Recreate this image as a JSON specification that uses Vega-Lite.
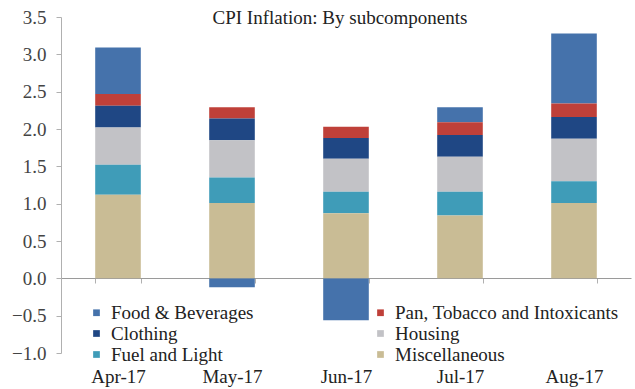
{
  "$schema": "https://vega.github.io/schema/vega-lite/v6.json",
  "width": 570,
  "height": 336,
  "autosize": "none",
  "padding": {"left": 61, "top": 17, "right": 4, "bottom": 36},
  "background": "white",
  "title": {
    "text": "CPI Inflation: By subcomponents",
    "font": "Liberation Serif",
    "fontSize": 19,
    "fontWeight": "normal",
    "color": "#222",
    "anchor": "middle",
    "frame": "group",
    "offset": -20,
    "dx": -6
  },
  "data": {
    "values": [
      {"month": "Apr-17", "component": "Food & Beverages", "value": 0.62},
      {"month": "Apr-17", "component": "Pan, Tobacco and Intoxicants", "value": 0.16},
      {"month": "Apr-17", "component": "Clothing", "value": 0.29},
      {"month": "Apr-17", "component": "Housing", "value": 0.50},
      {"month": "Apr-17", "component": "Fuel and Light", "value": 0.40},
      {"month": "Apr-17", "component": "Miscellaneous", "value": 1.12},
      {"month": "May-17", "component": "Food & Beverages", "value": -0.12},
      {"month": "May-17", "component": "Pan, Tobacco and Intoxicants", "value": 0.15},
      {"month": "May-17", "component": "Clothing", "value": 0.29},
      {"month": "May-17", "component": "Housing", "value": 0.50},
      {"month": "May-17", "component": "Fuel and Light", "value": 0.34},
      {"month": "May-17", "component": "Miscellaneous", "value": 1.01},
      {"month": "Jun-17", "component": "Food & Beverages", "value": -0.56},
      {"month": "Jun-17", "component": "Pan, Tobacco and Intoxicants", "value": 0.15},
      {"month": "Jun-17", "component": "Clothing", "value": 0.28},
      {"month": "Jun-17", "component": "Housing", "value": 0.44},
      {"month": "Jun-17", "component": "Fuel and Light", "value": 0.29},
      {"month": "Jun-17", "component": "Miscellaneous", "value": 0.87},
      {"month": "Jul-17", "component": "Food & Beverages", "value": 0.20},
      {"month": "Jul-17", "component": "Pan, Tobacco and Intoxicants", "value": 0.17},
      {"month": "Jul-17", "component": "Clothing", "value": 0.29},
      {"month": "Jul-17", "component": "Housing", "value": 0.47},
      {"month": "Jul-17", "component": "Fuel and Light", "value": 0.32},
      {"month": "Jul-17", "component": "Miscellaneous", "value": 0.84},
      {"month": "Aug-17", "component": "Food & Beverages", "value": 0.94},
      {"month": "Aug-17", "component": "Pan, Tobacco and Intoxicants", "value": 0.18},
      {"month": "Aug-17", "component": "Clothing", "value": 0.29},
      {"month": "Aug-17", "component": "Housing", "value": 0.57},
      {"month": "Aug-17", "component": "Fuel and Light", "value": 0.29},
      {"month": "Aug-17", "component": "Miscellaneous", "value": 1.01}
    ]
  },
  "transform": [
    {"calculate": "indexof(['Food & Beverages','Pan, Tobacco and Intoxicants','Clothing','Housing','Fuel and Light','Miscellaneous'], datum.component)", "as": "k"}
  ],
  "mark": {"type": "bar"},
  "encoding": {
    "x": {
      "field": "month",
      "type": "nominal",
      "sort": null,
      "scale": {"paddingInner": 0.6, "paddingOuter": 0.3},
      "axis": {
        "title": null,
        "offset": -75,
        "domainColor": "#9a9a9a",
        "tickColor": "#b0b0b0",
        "tickBand": "extent",
        "tickSize": 5,
        "labelAngle": 0,
        "labelPadding": 84,
        "labelFont": "Liberation Serif",
        "labelFontSize": 19,
        "labelColor": "#222"
      }
    },
    "y": {
      "field": "value",
      "type": "quantitative",
      "stack": "zero",
      "scale": {"domain": [-1, 3.5], "nice": false, "zero": false},
      "axis": {
        "title": null,
        "grid": false,
        "values": [-1, -0.5, 0, 0.5, 1, 1.5, 2, 2.5, 3, 3.5],
        "format": ".1f",
        "domainColor": "#b0b0b0",
        "tickColor": "#b0b0b0",
        "tickSize": 5,
        "labelPadding": 10,
        "labelFont": "Liberation Serif",
        "labelFontSize": 19,
        "labelColor": "#444"
      }
    },
    "color": {
      "field": "component",
      "type": "nominal",
      "scale": {
        "domain": ["Food & Beverages", "Clothing", "Fuel and Light", "Pan, Tobacco and Intoxicants", "Housing", "Miscellaneous"],
        "range": ["#4572ab", "#1f4784", "#3f9cb8", "#bf4039", "#c2c2c6", "#c9bc95"]
      },
      "legend": {
        "title": null,
        "orient": "none",
        "legendX": 26,
        "legendY": 286,
        "columns": 2,
        "columnPadding": 117,
        "rowPadding": 1,
        "padding": 0,
        "symbolType": "square",
        "symbolSize": 45,
        "symbolStrokeWidth": 0,
        "labelOffset": 5,
        "labelFont": "Liberation Serif",
        "labelFontSize": 19,
        "labelColor": "#222",
        "labelLimit": 300
      }
    },
    "order": {"field": "k", "type": "quantitative", "sort": "descending"}
  },
  "config": {
    "font": "Liberation Serif",
    "view": {"stroke": null}
  }
}
